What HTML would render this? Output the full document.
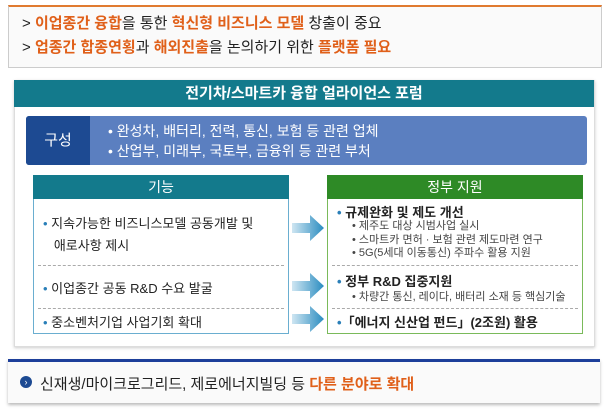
<!DOCTYPE html><html><head><meta charset="utf-8"><style>
body{margin:0;width:607px;height:411px;background:#fff;font-family:"Liberation Sans","Noto Sans CJK KR",sans-serif;position:relative;overflow:hidden}
.a{position:absolute}
.o{color:#e0601a;font-weight:bold}
.t{font-size:13px;color:#222;white-space:nowrap}
.s{font-size:11px;color:#444;white-space:nowrap}
.b{color:#2a7fb8}
</style></head><body>
<div class="a" style="left:8px;top:5px;width:592px;height:60px;border:1px solid #ccc;border-top:2px solid #e07a30;background:#fafafa"></div>
<div class="a" style="left:22px;top:12px;font-size:15px;color:#222;white-space:nowrap">&gt; <span class="o">이업종간 융합</span>을 통한 <span class="o">혁신형 비즈니스 모델</span> 창출이 중요</div>
<div class="a" style="left:22px;top:36px;font-size:15px;color:#222;white-space:nowrap">&gt; <span class="o">업종간 합종연횡</span>과 <span class="o">해외진출</span>을 논의하기 위한 <span class="o">플랫폼 필요</span></div>
<div class="a" style="left:14px;top:80px;width:579px;height:265px;border:1px solid #ddd;background:#fff;box-shadow:0 1px 3px #ccc"></div>
<div class="a" style="left:14px;top:80px;width:580px;height:27px;background:#137a8c;color:#fff;font-size:15px;font-weight:bold;text-align:center;line-height:27px">전기차/스마트카 융합 얼라이언스 포럼</div>
<div class="a" style="left:26px;top:116px;width:561px;height:49px;background:#5b7fc0;border-radius:3px"></div>
<div class="a" style="left:26px;top:116px;width:64px;height:49px;background:#1d4a92;border-radius:3px 0 0 3px;color:#fff;font-size:15px;text-align:center;line-height:49px">구성</div>
<div class="a" style="left:108px;top:121px;color:#fff;font-size:14px;line-height:20px;white-space:nowrap">• 완성차, 배터리, 전력, 통신, 보험 등 관련 업체<br>• 산업부, 미래부, 국토부, 금융위 등 관련 부처</div>
<div class="a" style="left:33px;top:175px;width:254px;height:157px;border:1px solid #6aaed0"></div>
<div class="a" style="left:33px;top:175px;width:256px;height:24px;background:#137a8c;color:#fff;font-size:14px;text-align:center;line-height:24px">기능</div>
<div class="a" style="left:327px;top:175px;width:254px;height:157px;border:1px solid #7aba5a"></div>
<div class="a" style="left:327px;top:175px;width:256px;height:24px;background:#2e8a26;color:#fff;font-size:14px;text-align:center;line-height:24px">정부 지원</div>
<div class="a" style="left:38px;top:265px;width:246px;border-top:1px dashed #aaa"></div>
<div class="a" style="left:38px;top:308px;width:246px;border-top:1px dashed #aaa"></div>
<div class="a" style="left:332px;top:265px;width:246px;border-top:1px dashed #aaa"></div>
<div class="a" style="left:332px;top:308px;width:246px;border-top:1px dashed #aaa"></div>
<div class="a t" style="left:43px;top:213px;line-height:22px"><span class="b">•</span> 지속가능한 비즈니스모델 공동개발 및<br>&nbsp;&nbsp; 애로사항 제시</div>
<div class="a t" style="left:43px;top:278px"><span class="b">•</span> 이업종간 공동 R&amp;D 수요 발굴</div>
<div class="a t" style="left:43px;top:312px"><span class="b">•</span> 중소벤처기업 사업기회 확대</div>
<div class="a t" style="left:337px;top:202px;font-weight:bold"><span class="b">•</span> 규제완화 및 제도 개선</div>
<div class="a s" style="left:352px;top:220px;line-height:13.5px">• 제주도 대상 시범사업 실시<br>• 스마트카 면허 · 보험 관련 제도마련 연구<br>• 5G(5세대 이동통신) 주파수 활용 지원</div>
<div class="a t" style="left:337px;top:271px;font-weight:bold"><span class="b">•</span> 정부 R&amp;D 집중지원</div>
<div class="a s" style="left:352px;top:288px">• 차량간 통신, 레이다, 배터리 소재 등 핵심기술</div>
<div class="a t" style="left:337px;top:312px;font-weight:bold"><span class="b">•</span>「에너지 신산업 펀드」(2조원) 활용</div>
<svg class="a" style="left:290px;top:211px" width="36" height="125"><defs><linearGradient id="g"><stop offset="0" stop-color="#cfe6f2"/><stop offset="1" stop-color="#2a8cc0"/></linearGradient></defs>
<polygon points="2,12 20,12 20,4 34,17 20,30 20,22 2,22" fill="url(#g)"/>
<polygon points="2,70 20,70 20,62 34,75 20,88 20,80 2,80" fill="url(#g)"/>
<polygon points="2,103 20,103 20,95 34,108 20,121 20,113 2,113" fill="url(#g)"/></svg>
<div class="a" style="left:8px;top:359px;width:592px;height:41px;border-top:3px solid #1d3f9a;background:#fafafa;box-shadow:0 2px 3px #bbb"></div>
<div class="a" style="left:20px;top:376px;width:12px;height:12px;border-radius:50%;background:#1d4a92;color:#fff;font-size:9px;text-align:center;line-height:12px">›</div>
<div class="a" style="left:40px;top:373px;font-size:15px;color:#222;white-space:nowrap">신재생/마이크로그리드, 제로에너지빌딩 등 <span class="o">다른 분야로 확대</span></div>
</body></html>
